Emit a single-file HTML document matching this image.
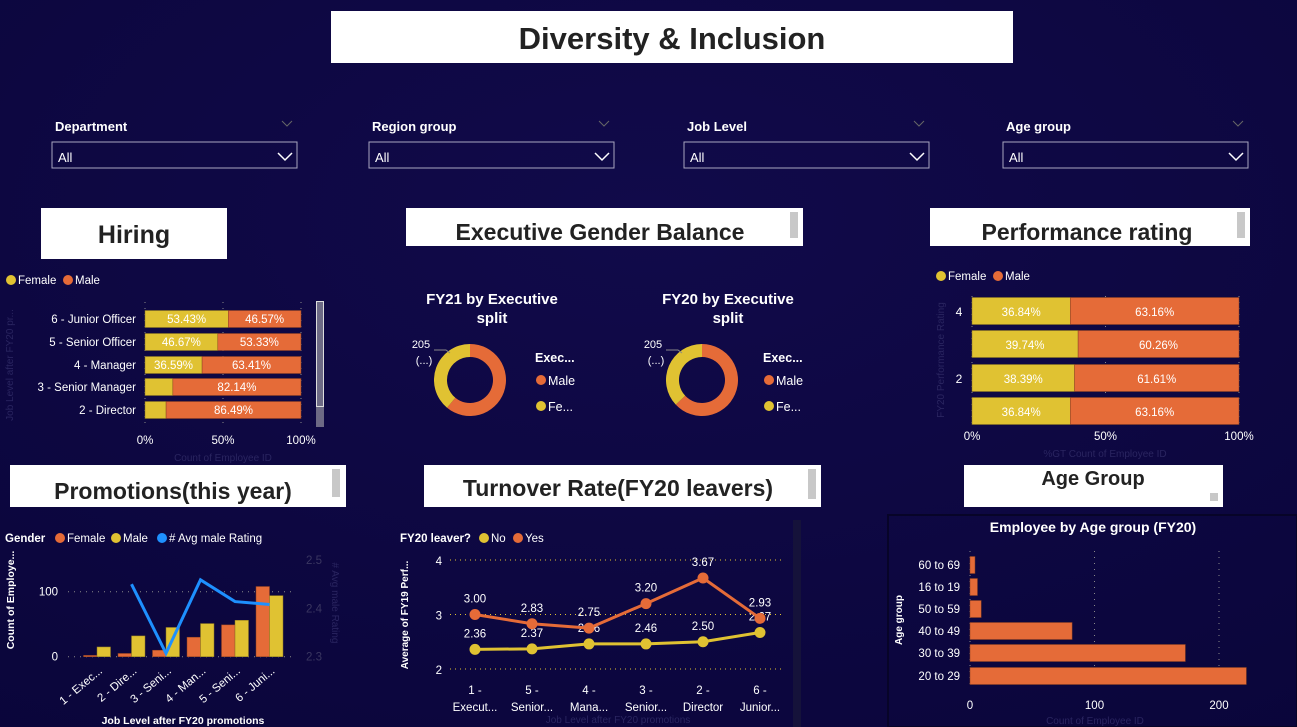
<!DOCTYPE html>
<html><head><meta charset="utf-8">
<style>
html,body{margin:0;padding:0;background:#0d0742;}
svg{display:block;font-family:"Liberation Sans",sans-serif;}
</style></head>
<body>
<svg id="s" width="1297" height="727" viewBox="0 0 1297 727" xmlns="http://www.w3.org/2000/svg">
<defs>
<radialGradient id="bg" cx="0.5" cy="0.3" r="0.9"><stop offset="0" stop-color="#110a4a"/><stop offset="1" stop-color="#0a053a"/></radialGradient>
</defs>
<rect width="1297" height="727" fill="url(#bg)"/>

<g>
<rect x="331" y="11" width="682" height="52" fill="#fff"/>
<text x="672" y="49" text-anchor="middle" font-size="31" font-weight="bold" fill="#222">Diversity &amp; Inclusion</text>
</g>

<g id="slicers"></g>

<!-- section headers -->
<g><rect x="41" y="208" width="186" height="51" fill="#fff"/><text x="134" y="243" text-anchor="middle" font-size="25" font-weight="bold" fill="#222">Hiring</text></g>
<g><rect x="406" y="208" width="397" height="38" fill="#fff"/><text x="600" y="240" text-anchor="middle" font-size="23" font-weight="bold" fill="#222">Executive Gender Balance</text><rect x="790" y="212" width="8" height="26" fill="#c8c8c8"/></g>
<g><rect x="930" y="208" width="320" height="38" fill="#fff"/><text x="1087" y="240" text-anchor="middle" font-size="23" font-weight="bold" fill="#222">Performance rating</text><rect x="1237" y="212" width="8" height="26" fill="#c8c8c8"/></g>
<g><rect x="10" y="465" width="336" height="42" fill="#fff"/><text x="173" y="499" text-anchor="middle" font-size="23" font-weight="bold" fill="#222">Promotions(this year)</text><rect x="332" y="469" width="8" height="28" fill="#c8c8c8"/></g>
<g><rect x="424" y="465" width="397" height="42" fill="#fff"/><text x="618" y="496" text-anchor="middle" font-size="23" font-weight="bold" fill="#222">Turnover Rate(FY20 leavers)</text><rect x="808" y="469" width="8" height="30" fill="#c8c8c8"/></g>
<g><rect x="964" y="465" width="259" height="42" fill="#fff"/><text x="1093" y="485" text-anchor="middle" font-size="20" font-weight="bold" fill="#222">Age Group</text><rect x="1210" y="493" width="8" height="8" fill="#c8c8c8"/></g>

<rect x="888" y="515" width="409" height="212" fill="none" stroke="#070428" stroke-width="2"/>
<rect x="793" y="520" width="8" height="207" fill="#15123a"/>

<g id="hiring"></g>
<g id="donuts"></g>
<g id="perf"></g>
<g id="promo"></g>
<g id="turn"></g>
<g id="age"></g>
</svg>
<script>
const NS="http://www.w3.org/2000/svg";
const OR="#e56b38", YE="#e0c232", BL="#1e90ff";
function el(parent,tag,attrs,txt){const e=document.createElementNS(NS,tag);for(const k in attrs)e.setAttribute(k,attrs[k]);if(txt!=null)e.textContent=txt;parent.appendChild(e);return e;}

// ---------- data ----------
const slicerNames=["Department","Region group","Job Level","Age group"];
const hiringCats=["6 - Junior Officer","5 - Senior Officer","4 - Manager","3 - Senior Manager","2 - Director"];
const hiringFemale=[53.43,46.67,36.59,17.86,13.51];
const donutTitles=["FY21 by Executive","FY20 by Executive"];
const donutFemale=[39,37];
const perfCats=["4","","2",""];
const perfFemale=[36.84,39.74,38.39,36.84];
const promoCats=["1 - Exec...","2 - Dire...","3 - Seni...","4 - Man...","5 - Seni...","6 - Juni..."];
const promoFemale=[2,5,10,30,49,108];
const promoMale=[15,32,45,51,56,94];
const promoRating=[null,2.45,2.307,2.459,2.414,2.408];
const turnCats1=["1 -","5 -","4 -","3 -","2 -","6 -"];
const turnCats2=["Execut...","Senior...","Mana...","Senior...","Director","Junior..."];
const turnYes=[3.00,2.83,2.75,3.20,3.67,2.93];
const turnNo=[2.36,2.37,2.46,2.46,2.50,2.67];
const ageCats=["60 to 69","16 to 19","50 to 59","40 to 49","30 to 39","20 to 29"];
const ageVals=[4,6,9,82,173,222];

// ---------- slicers ----------
(function(){
  const g=document.getElementById('slicers');
  const xs=[52,369,684,1003], w=245;
  slicerNames.forEach((n,i)=>{
    const s=el(g,'g',{});
    
    
    const x=xs[i];
    el(s,'text',{x:x+3,y:131,'font-size':13,'font-weight':'bold',fill:'#fff'},n);
    el(s,'path',{d:`M${x+230} ${121} l5 5 l5 -5`,stroke:'#666',fill:'none','stroke-width':1});
    el(s,'rect',{x:x,y:142,width:w,height:26,fill:'none',stroke:'#a9a6c0','stroke-width':1});
    el(s,'text',{x:x+6,y:162,'font-size':13,fill:'#fff'},'All');
    el(s,'path',{d:`M${x+226} ${153} l7 7 l7 -7`,stroke:'#fff',fill:'none','stroke-width':1.5});
  });
})();

// ---------- hiring ----------
(function(){
  const g=document.getElementById('hiring');
  const x0=145,x1=301, sx=v=>x0+(x1-x0)*v/100;
  const ys=[319,342,365,387,410], h=17;
  const lg=el(g,'g',{});
  el(lg,'circle',{cx:11,cy:280,r:5,fill:YE});el(lg,'text',{x:18,y:284,'font-size':11.5,fill:'#fff'},'Female');
  el(lg,'circle',{cx:68,cy:280,r:5,fill:OR});el(lg,'text',{x:75,y:284,'font-size':11.5,fill:'#fff'},'Male');
  [0,50,100].forEach(t=>{
    el(g,'line',{x1:sx(t),x2:sx(t),y1:302,y2:425,stroke:'#888','stroke-dasharray':'1 5'});
    const tt=el(g,'text',{x:sx(t),y:444,'font-size':11.5,fill:'#fff','text-anchor':'middle'},t+'%');
    
  });
  el(g,'text',{x:223,y:461,'font-size':10,fill:'#2a2560','text-anchor':'middle'},'Count of Employee ID');
  el(g,'text',{x:13,y:365,'font-size':10,fill:'#2a2560','text-anchor':'middle',transform:'rotate(-90 13 365)'},'Job Level after FY20 pr...');
  hiringCats.forEach((c,i)=>{
    const y=ys[i]-h/2, f=hiringFemale[i];
    el(g,'text',{x:136,y:ys[i]+4,'font-size':11.5,fill:'#fff','text-anchor':'end'},c);
    const b1=el(g,'rect',{x:sx(0),y:y,width:sx(f)-sx(0),height:h,fill:YE,stroke:'#8a7520','stroke-width':0.5});
    
    const b2=el(g,'rect',{x:sx(f),y:y,width:sx(100)-sx(f),height:h,fill:OR,stroke:'#8a4020','stroke-width':0.5});
    
    if(f>30) el(g,'text',{x:(sx(0)+sx(f))/2,y:ys[i]+4,'font-size':11.5,fill:'#fff','text-anchor':'middle'},f.toFixed(2)+'%');
    el(g,'text',{x:(sx(f)+sx(100))/2,y:ys[i]+4,'font-size':11.5,fill:'#fff','text-anchor':'middle'},(100-f).toFixed(2)+'%');
  });
  const sb=el(g,'g',{});
  el(sb,'rect',{x:316,y:301,width:8,height:126,fill:'#6d6a85'});
  el(sb,'rect',{x:316.5,y:301.5,width:7,height:105,fill:'none',stroke:'#ddd','stroke-width':1});
})();

// ---------- donuts ----------
(function(){
  const g=document.getElementById('donuts');
  const cxs=[470,702], tcs=[492,728], lxs=[535,763];
  function arc(cx,cy,R,r,a0,a1,fill){
    const p=(a,rad)=>[cx+rad*Math.sin(a),cy-rad*Math.cos(a)];
    const large=(a1-a0)>Math.PI?1:0;
    const [x1,y1]=p(a0,R),[x2,y2]=p(a1,R),[x3,y3]=p(a1,r),[x4,y4]=p(a0,r);
    return el(g,'path',{d:`M${x1} ${y1} A${R} ${R} 0 ${large} 1 ${x2} ${y2} L${x3} ${y3} A${r} ${r} 0 ${large} 0 ${x4} ${y4}Z`,fill:fill});
  }
  donutTitles.forEach((t,i)=>{
    const cx=cxs[i],cy=380;
    el(g,'text',{x:tcs[i],y:304,'font-size':15,'font-weight':'bold',fill:'#fff','text-anchor':'middle'},t);
    el(g,'text',{x:tcs[i],y:323,'font-size':15,'font-weight':'bold',fill:'#fff','text-anchor':'middle'},'split');
    const mA=(100-donutFemale[i])/100*2*Math.PI;
    const m=arc(cx,cy,36,23,0,mA,OR);
    const f=arc(cx,cy,36,23,mA,2*Math.PI-0.0001,YE);
    el(g,'text',{x:cx-49,y:348,'font-size':11,fill:'#fff','text-anchor':'middle'},'205');
    el(g,'text',{x:cx-46,y:364,'font-size':11,fill:'#fff','text-anchor':'middle'},'(...)');
    el(g,'path',{d:`M${cx-36} 350 l12 0 l4 3`,stroke:'#888',fill:'none'});
    const lx=lxs[i];
    el(g,'text',{x:lx,y:362,'font-size':12.5,'font-weight':'bold',fill:'#fff'},'Exec...');
    el(g,'circle',{cx:lx+6,cy:380,r:5,fill:OR});el(g,'text',{x:lx+13,y:385,'font-size':12.5,fill:'#fff'},'Male');
    el(g,'circle',{cx:lx+6,cy:406,r:5,fill:YE});el(g,'text',{x:lx+13,y:411,'font-size':12.5,fill:'#fff'},'Fe...');
  });
})();

// ---------- performance ----------
(function(){
  const g=document.getElementById('perf');
  const x0=972,x1=1239,sx=v=>x0+(x1-x0)*v/100;
  const ys=[311,344,378,411],h=27;
  el(g,'circle',{cx:941,cy:276,r:5,fill:YE});el(g,'text',{x:948,y:280,'font-size':11.5,fill:'#fff'},'Female');
  el(g,'circle',{cx:998,cy:276,r:5,fill:OR});el(g,'text',{x:1005,y:280,'font-size':11.5,fill:'#fff'},'Male');
  el(g,'text',{x:944,y:360,'font-size':10,fill:'#2a2560','text-anchor':'middle',transform:'rotate(-90 944 360)'},'FY20 Performance Rating');
  el(g,'text',{x:1105,y:457,'font-size':10,fill:'#2a2560','text-anchor':'middle'},'%GT Count of Employee ID');
  [0,50,100].forEach(t=>{
    el(g,'line',{x1:sx(t),x2:sx(t),y1:296,y2:426,stroke:'#888','stroke-dasharray':'1 5'});
    el(g,'text',{x:sx(t),y:440,'font-size':11.5,fill:'#fff','text-anchor':'middle'},t+'%');
  });
  perfCats.forEach((c,i)=>{
    const y=ys[i]-h/2,f=perfFemale[i];
    if(c) el(g,'text',{x:959,y:ys[i]+5,'font-size':12,fill:'#fff','text-anchor':'middle'},c);
    const b1=el(g,'rect',{x:sx(0),y:y,width:sx(f)-sx(0),height:h,fill:YE,stroke:'#8a7520','stroke-width':0.5});
    
    const b2=el(g,'rect',{x:sx(f),y:y,width:sx(100)-sx(f),height:h,fill:OR,stroke:'#8a4020','stroke-width':0.5});
    
    el(g,'text',{x:(sx(0)+sx(f))/2,y:ys[i]+5,'font-size':11.5,fill:'#fff','text-anchor':'middle'},f.toFixed(2)+'%');
    el(g,'text',{x:(sx(f)+sx(100))/2,y:ys[i]+5,'font-size':11.5,fill:'#fff','text-anchor':'middle'},(100-f).toFixed(2)+'%');
  });
})();

// ---------- promotions ----------
(function(){
  const g=document.getElementById('promo');
  const y0=656.7, py=v=>y0-v*0.65;
  const ry=v=>656.7-(v-2.3)/0.2*96.7;
  const gx=i=>97+i*34.5, bw=13.5;
  el(g,'text',{x:5,y:542,'font-size':11.5,'font-weight':'bold',fill:'#fff'},'Gender');
  el(g,'circle',{cx:60,cy:538,r:5,fill:OR});el(g,'text',{x:67,y:542,'font-size':11.5,fill:'#fff'},'Female');
  el(g,'circle',{cx:116,cy:538,r:5,fill:YE});el(g,'text',{x:123,y:542,'font-size':11.5,fill:'#fff'},'Male');
  el(g,'circle',{cx:162,cy:538,r:5,fill:BL});el(g,'text',{x:169,y:542,'font-size':11.5,fill:'#fff'},'# Avg male Rating');
  [0,100].forEach(t=>{
    el(g,'line',{x1:68,x2:295,y1:py(t),y2:py(t),stroke:'#888','stroke-dasharray':'1 5'});
    el(g,'text',{x:58,y:py(t)+4,'font-size':11.5,fill:'#fff','text-anchor':'end'},t);
  });
  [2.3,2.4,2.5].forEach(t=>el(g,'text',{x:306,y:ry(t)+4,'font-size':11.5,fill:'#3a3660'},t.toFixed(1)));
  el(g,'text',{x:332,y:603,'font-size':10,fill:'#2a2560','text-anchor':'middle',transform:'rotate(90 332 603)'},'# Avg male Rating');
  el(g,'text',{x:14,y:600,'font-size':10.5,'font-weight':'bold',fill:'#fff','text-anchor':'middle',transform:'rotate(-90 14 600)'},'Count of Employe...');
  el(g,'text',{x:183,y:724,'font-size':10.5,'font-weight':'bold',fill:'#fff','text-anchor':'middle'},'Job Level after FY20 promotions');
  promoCats.forEach((c,i)=>{
    const cx=gx(i);
    const b1=el(g,'rect',{x:cx-bw,y:py(promoFemale[i]),width:bw,height:y0-py(promoFemale[i]),fill:OR,stroke:'#8a4020','stroke-width':0.5});
    
    const b2=el(g,'rect',{x:cx,y:py(promoMale[i]),width:bw,height:y0-py(promoMale[i]),fill:YE,stroke:'#8a7520','stroke-width':0.5});
    
    el(g,'text',{x:cx+6,y:672,'font-size':11.5,fill:'#fff','text-anchor':'end',transform:`rotate(-40 ${cx+6} 672)`},c);
  });
  let d='';promoRating.forEach((v,i)=>{if(v!=null)d+=(d?'L':'M')+gx(i)+' '+ry(v);});
  const ln=el(g,'path',{d:d,stroke:BL,'stroke-width':3,fill:'none','stroke-linejoin':'miter'});
  
})();

// ---------- turnover ----------
(function(){
  const g=document.getElementById('turn');
  const py=v=>669-(v-2)*54.5, gx=i=>475+i*57;
  el(g,'text',{x:400,y:542,'font-size':11.5,'font-weight':'bold',fill:'#fff'},'FY20 leaver?');
  el(g,'circle',{cx:484,cy:538,r:5,fill:YE});el(g,'text',{x:491,y:542,'font-size':11.5,fill:'#fff'},'No');
  el(g,'circle',{cx:518,cy:538,r:5,fill:OR});el(g,'text',{x:525,y:542,'font-size':11.5,fill:'#fff'},'Yes');
  [2,3,4].forEach(t=>{
    el(g,'line',{x1:450,x2:785,y1:py(t),y2:py(t),stroke:YE,'stroke-dasharray':'1 4','stroke-width':1});
    el(g,'text',{x:442,y:py(t)+5,'font-size':11.5,fill:'#fff','text-anchor':'end'},t);
  });
  el(g,'text',{x:408,y:615,'font-size':10,'font-weight':'bold',fill:'#fff','text-anchor':'middle',transform:'rotate(-90 408 615)'},'Average of FY19 Perf...');
  el(g,'text',{x:618,y:723,'font-size':10,fill:'#2a2560','text-anchor':'middle'},'Job Level after FY20 promotions');
  turnCats1.forEach((c,i)=>{
    el(g,'text',{x:gx(i),y:694,'font-size':11.5,fill:'#fff','text-anchor':'middle'},c);
    el(g,'text',{x:gx(i),y:711,'font-size':11.5,fill:'#fff','text-anchor':'middle'},turnCats2[i]);
  });
  [[turnNo,YE,'turnover-no'],[turnYes,OR,'turnover-yes']].forEach(([arr,col,nm])=>{
    const l=el(g,'path',{d:arr.map((v,i)=>(i?'L':'M')+gx(i)+' '+py(v)).join(''),stroke:col,'stroke-width':3,fill:'none'});
    
    arr.forEach((v,i)=>{
      const c=el(g,'circle',{cx:gx(i),cy:py(v),r:5.5,fill:col});
      
      el(g,'text',{x:gx(i),y:py(v)-12,'font-size':11.5,fill:'#fff','text-anchor':'middle'},v.toFixed(2));
    });
  });
})();

// ---------- age ----------
(function(){
  const g=document.getElementById('age');
  const sx=v=>970+v*1.245, ys=[565,587,609,631,653,676], h=17;
  el(g,'text',{x:1093,y:532,'font-size':14,'font-weight':'bold',fill:'#fff','text-anchor':'middle'},'Employee by Age group (FY20)');
  el(g,'text',{x:902,y:620,'font-size':10,'font-weight':'bold',fill:'#fff','text-anchor':'middle',transform:'rotate(-90 902 620)'},'Age group');
  el(g,'text',{x:1095,y:724,'font-size':10,fill:'#2a2560','text-anchor':'middle'},'Count of Employee ID');
  [0,100,200].forEach(t=>{
    el(g,'line',{x1:sx(t),x2:sx(t),y1:551,y2:688,stroke:'#888','stroke-dasharray':'1 5'});
    el(g,'text',{x:sx(t),y:709,'font-size':11.5,fill:'#fff','text-anchor':'middle'},t);
  });
  ageCats.forEach((c,i)=>{
    el(g,'text',{x:960,y:ys[i]+4,'font-size':11.5,fill:'#fff','text-anchor':'end'},c);
    const b=el(g,'rect',{x:sx(0),y:ys[i]-h/2,width:sx(ageVals[i])-sx(0),height:h,fill:OR,stroke:'#8a4020','stroke-width':0.5});
    
  });
})();
</script>
</body></html>
